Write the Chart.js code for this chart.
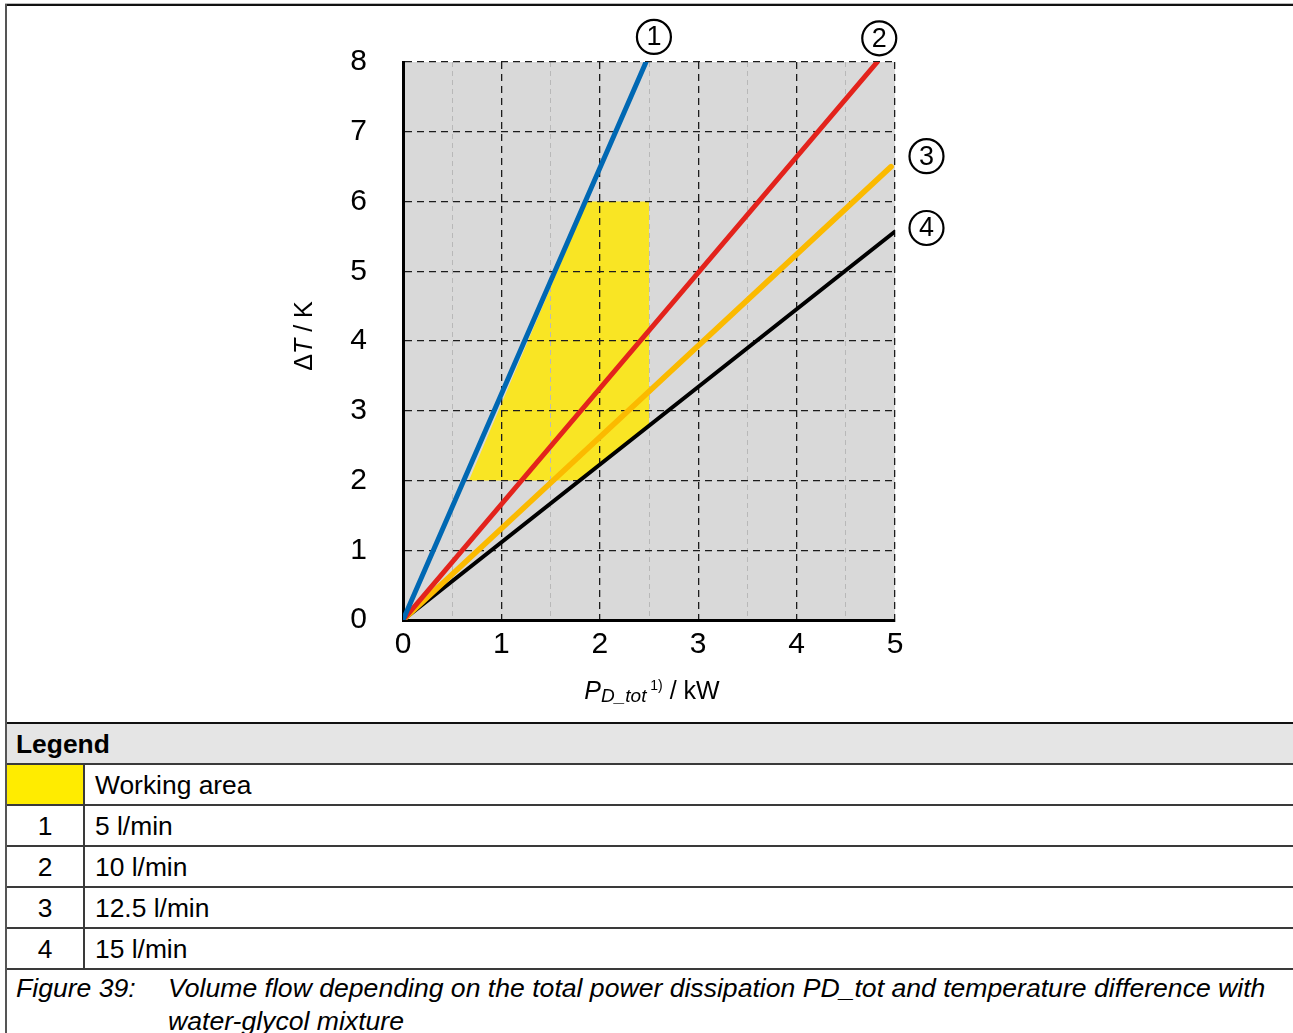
<!DOCTYPE html>
<html>
<head>
<meta charset="utf-8">
<script src="https://cdn.jsdelivr.net/npm/chart.js@4.4.1/dist/chart.umd.min.js"></script>
<style>
  body { margin: 0; width: 1293px; height: 1033px; overflow: hidden; background: #fff;
         font-family: "Liberation Sans", Arial, sans-serif; color: #000; }
  #plotBg { position: absolute; background: #d9d9d9; z-index: 0; }
  #chart { position: absolute; left: 0; top: 0; z-index: 1; }
  #frameTop { position: absolute; left: 5px; top: 3px; width: 1288px; height: 2px; background: #111;
              border-top: 1px solid #bbb; z-index: 2; }
  #frameLeft { position: absolute; left: 5px; top: 4px; width: 2px; height: 1029px; background: #555; z-index: 2; }
  .row { position: absolute; left: 7px; width: 1286px; height: 41px; box-sizing: border-box;
         border-top: 2px solid #3a3a3a; font-size: 26.4px; }
  .row .c1 { position: absolute; left: 0; top: 0; width: 76px; height: 39px; line-height: 40px;
             text-align: center; border-right: 2px solid #3a3a3a; }
  .row .c2 { position: absolute; left: 88px; top: 0; height: 39px; line-height: 40px; }
  .head { background: #e5e5e5; border-top: 2px solid #111; font-weight: bold; }
  .head span { position: absolute; left: 9px; line-height: 40px; }
  .caption { position: absolute; left: 7px; top: 968px; width: 1286px; height: 65px; box-sizing: border-box;
             border-top: 2px solid #3a3a3a; font-size: 26.6px; font-style: italic; line-height: 33px; }
  .caption .fig { position: absolute; left: 9px; top: 2px; }
  .caption .txt { position: absolute; left: 161px; top: 2px; white-space: nowrap; }
</style>
</head>
<body>
<div id="plotBg"></div>
<canvas id="chart" width="1293" height="722"></canvas>
<div id="frameTop"></div>
<div id="frameLeft"></div>
<div id="legendTable"></div>
<div class="caption">
  <span class="fig">Figure 39:</span>
  <span class="txt">Volume flow depending on the total power dissipation PD_tot and temperature difference with<br>water-glycol mixture</span>
</div>
<script>
// values
const flowIds = ['1', '2', '3', '4'];
const flowNames = ['5 l/min', '10 l/min', '12.5 l/min', '15 l/min'];
const powerEnd = [2.47, 4.82, 4.96, 5.0];   // kW at the end of each line
const deltaTEnd = [8, 8, 6.5, 5.57];        // K at the end of each line
const areaPower = [0.67, 1.87, 2.5, 2.5, 1.79];
const areaDeltaT = [2, 6, 6, 2.79, 2];
const xTickValues = [0, 1, 2, 3, 4, 5];
const yTickValues = [0, 1, 2, 3, 4, 5, 6, 7, 8];

const lineColors = ['#0068b3', '#e3231c', '#fbba00', '#000000'];
const lineWidths = [5, 5, 5.5, 4];
const areaColor = '#f9e524';
const font = '"Liberation Sans", Arial, sans-serif';

// legend table below the chart
const table = document.getElementById('legendTable');
let rowsHtml = '<div class="row head" style="top:722px"><span>Legend</span></div>';
rowsHtml += '<div class="row" style="top:763px"><div class="c1" style="background:#ffec00"></div><div class="c2">Working area</div></div>';
flowIds.forEach((id, i) => {
    rowsHtml += `<div class="row" style="top:${804 + i * 41}px"><div class="c1">${id}</div><div class="c2">${flowNames[i]}</div></div>`;
});
table.innerHTML = rowsHtml;

const datasets = flowIds.map((id, i) => ({
    label: flowNames[i],
    data: [{x: 0, y: 0}, {x: powerEnd[i], y: deltaTEnd[i]}],
    borderColor: lineColors[i],
    borderWidth: lineWidths[i],
    borderCapStyle: 'round',
    pointRadius: 0,
    fill: false,
}));
datasets.push({
    label: 'Working area',
    data: areaPower.map((p, i) => ({x: p, y: areaDeltaT[i]})),
    borderColor: 'rgba(0,0,0,0)',
    borderWidth: 0,
    backgroundColor: areaColor,
    pointRadius: 0,
    fill: 'shape',
});

// circled curve numbers, placed in data space next to the line ends
const markerPos = [[2.55, 8.36], [4.84, 8.34], [5.32, 6.65], [5.32, 5.62]];

const extras = {
    id: 'extras',
    afterLayout(chart) {
        const a = chart.chartArea;
        const bg = document.getElementById('plotBg');
        bg.style.left = a.left + 'px';
        bg.style.top = a.top + 'px';
        bg.style.width = (a.right - a.left) + 'px';
        bg.style.height = (a.bottom - a.top) + 'px';
    },
    afterDraw(chart) {
        const {ctx, chartArea: a, scales: {x, y}} = chart;
        ctx.save();
        ctx.fillStyle = '#000';
        ctx.strokeStyle = '#000';

        // y axis title: ΔT / K
        ctx.save();
        ctx.translate(a.left - 98, (a.top + a.bottom) / 2 - 5);
        ctx.rotate(-Math.PI / 2);
        ctx.textBaseline = 'middle';
        const yParts = [['Δ', '25px ' + font], ['T', 'italic 25px ' + font], [' / K', '25px ' + font]];
        let total = 0;
        yParts.forEach(([t, f]) => { ctx.font = f; total += ctx.measureText(t).width; });
        let cx = -total / 2;
        yParts.forEach(([t, f]) => { ctx.font = f; ctx.fillText(t, cx, 0); cx += ctx.measureText(t).width; });
        ctx.restore();

        // x axis title: P_D_tot 1) / kW
        const base = a.bottom + 79;
        const xParts = [['P', 'italic 25px ' + font, 0], ['D_tot', 'italic 19px ' + font, 3],
                        [' 1)', '14px ' + font, -9], [' / kW', '25px ' + font, 0]];
        total = 0;
        xParts.forEach(([t, f]) => { ctx.font = f; total += ctx.measureText(t).width; });
        cx = (a.left + a.right) / 2 + 3 - total / 2;
        ctx.textBaseline = 'alphabetic';
        xParts.forEach(([t, f, dy]) => { ctx.font = f; ctx.fillText(t, cx, base + dy); cx += ctx.measureText(t).width; });

        // circled numbers
        ctx.lineWidth = 2.2;
        ctx.textAlign = 'center';
        ctx.textBaseline = 'middle';
        ctx.font = '27px ' + font;
        markerPos.forEach(([px, py], i) => {
            const mx = x.getPixelForValue(px);
            const my = y.getPixelForValue(py);
            ctx.beginPath();
            ctx.arc(mx, my, 17, 0, Math.PI * 2);
            ctx.stroke();
            ctx.fillText(flowIds[i], mx, my + 1);
        });
        ctx.restore();
    }
};

const majorDash = [7, 5];
const minorDash = [5, 4];

new Chart(document.getElementById('chart'), {
    type: 'line',
    data: {datasets},
    options: {
        responsive: false,
        animation: false,
        devicePixelRatio: 1,
        layout: {padding: {left: 283, top: 62, right: 398, bottom: 2}},
        plugins: {
            legend: {display: false},
            tooltip: {enabled: false},
            filler: {drawTime: 'beforeDraw'},
        },
        scales: {
            x: {
                type: 'linear',
                min: 0,
                max: 5,
                afterFit: (scale) => { scale.height = 100; },
                afterBuildTicks: (scale) => {
                    const t = [];
                    for (let v = 0; v <= 10; v++) t.push({value: v / 2});
                    scale.ticks = t;
                },
                ticks: {
                    padding: 7,
                    color: '#000',
                    font: {family: font, size: 30},
                    maxRotation: 0,
                    autoSkip: false,
                    callback: (v) => xTickValues.includes(v) ? String(v) : '',
                },
                grid: {
                    drawTicks: false,
                    color: (c) => c.tick && c.tick.value % 1 ? '#b8b8b8' : '#1c1c1c',
                    lineWidth: (c) => c.tick && c.tick.value % 1 ? 1 : 1.3,
                },
                border: {
                    display: true,
                    color: '#000',
                    width: 3,
                    dash: (c) => c.tick && c.tick.value % 1 ? minorDash : majorDash,
                },
            },
            y: {
                type: 'linear',
                min: 0,
                max: 8,
                afterFit: (scale) => { scale.width = 120; },
                afterBuildTicks: (scale) => { scale.ticks = yTickValues.map((v) => ({value: v})); },
                ticks: {
                    padding: 36,
                    crossAlign: 'center',
                    color: '#000',
                    font: {family: font, size: 30},
                    callback: (v) => String(v),
                },
                grid: {
                    drawTicks: false,
                    color: '#1c1c1c',
                    lineWidth: 1.3,
                },
                border: {
                    display: true,
                    color: '#000',
                    width: 3,
                    dash: majorDash,
                },
            },
        },
    },
    plugins: [extras],
});
</script>
</body>
</html>
